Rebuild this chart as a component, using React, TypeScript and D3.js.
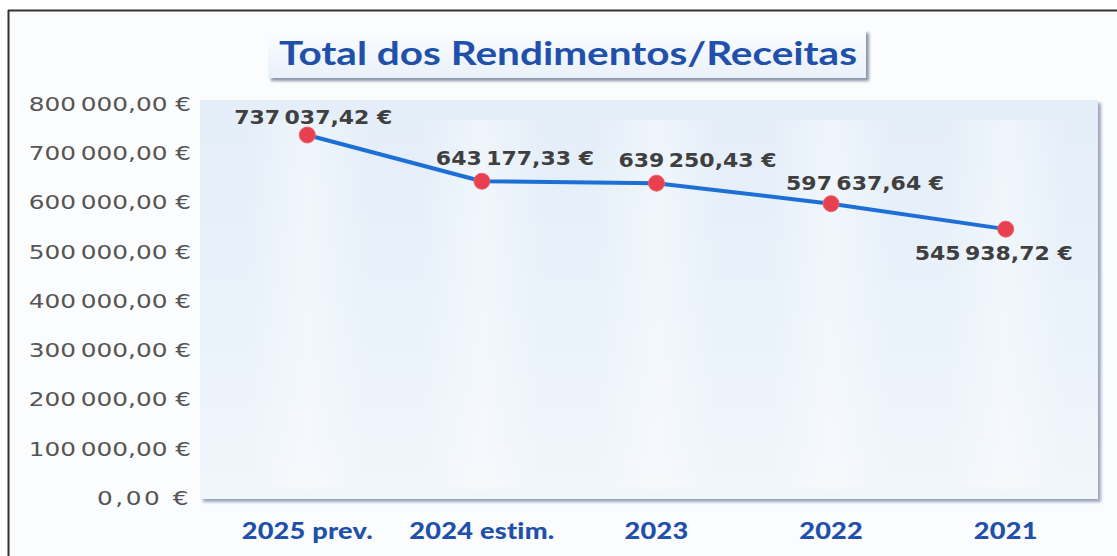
import React from "react";
import * as d3 from "d3";

// values
const categories = ["2025 prev.", "2024 estim.", "2023", "2022", "2021"];
const totals = [737037.42, 643177.33, 639250.43, 597637.64, 545938.72];
const yTicks = [0, 100000, 200000, 300000, 400000, 500000, 600000, 700000, 800000];
const title = "Total dos Rendimentos/Receitas";

// manual nudges of the data labels (as placed in the original)
const labelDx = [6, 33, 41, 34, -12];
const labelDy = [-11, -16, -16, -14, 31];

const W = 1117;
const H = 556;

const pt = d3.formatLocale({
  decimal: ",",
  thousands: "\u202f",
  grouping: [3],
  currency: ["", "\u00a0€"],
});
const euro = pt.format("$,.2f");

// the original scan is stretched sideways; text is widened to match
const stretch = (px: number, py: number, k: number) => `translate(${px},${py}) scale(${k},1)`;

export default function App() {
  const panel = { x0: 200, x1: 1098, y0: 100, y1: 499 };

  const y = d3.scaleLinear().domain([0, 800000]).range([498, 104]);
  const x = d3.scaleBand().domain(categories).range([220, 1093]).paddingInner(0);
  const cx = (c: string) => (x(c) ?? 0) + x.bandwidth() / 2;

  const line = d3
    .line<number>()
    .x((_, i) => cx(categories[i]))
    .y((d) => y(d));

  return (
    <svg
      width={W}
      height={H}
      style={{ position: "absolute", left: 0, top: 0, background: "#ffffff" }}
    >
      <defs>
        <linearGradient id="panelFill" x1="0" y1="0" x2="0" y2="1">
          <stop offset="0" stopColor="#e4eef8" />
          <stop offset="0.55" stopColor="#eaf2fa" />
          <stop offset="1" stopColor="#f1f6fb" />
        </linearGradient>
        <linearGradient id="stripe" x1="0" y1="0" x2="1" y2="0">
          <stop offset="0" stopColor="#ffffff" stopOpacity="0" />
          <stop offset="0.5" stopColor="#ffffff" stopOpacity="0.4" />
          <stop offset="1" stopColor="#ffffff" stopOpacity="0" />
        </linearGradient>
        <linearGradient id="titleFill" x1="0" y1="0" x2="0" y2="1">
          <stop offset="0" stopColor="#fbfdff" />
          <stop offset="1" stopColor="#e9f1fa" />
        </linearGradient>
        <filter id="soft" x="-5%" y="-5%" width="110%" height="115%">
          <feGaussianBlur stdDeviation="1.5" />
        </filter>
      </defs>

      {/* outer frame */}
      <rect x={0} y={0} width={W} height={H} fill="#fbfcfd" />
      <rect x={0} y={0} width={W} height={10} fill="#ffffff" />
      <rect x={0} y={0} width={8} height={H} fill="#ffffff" />
      <line x1={8.5} y1={10} x2={8.5} y2={H} stroke="#333" strokeWidth={2} />
      <line x1={8} y1={10.5} x2={W} y2={10.5} stroke="#333" strokeWidth={2} />

      {/* plot panel with soft shadow */}
      <rect
        x={panel.x0 + 3}
        y={panel.y0 + 3}
        width={panel.x1 - panel.x0}
        height={panel.y1 - panel.y0}
        fill="#9aa6c0"
        filter="url(#soft)"
      />
      <rect
        x={panel.x0}
        y={panel.y0}
        width={panel.x1 - panel.x0}
        height={panel.y1 - panel.y0}
        fill="url(#panelFill)"
      />
      {categories.map((c) => (
        <rect
          key={"s" + c}
          x={cx(c) - 60}
          y={panel.y0 + 20}
          width={120}
          height={panel.y1 - panel.y0 - 30}
          fill="url(#stripe)"
        />
      ))}

      {/* title box */}
      <rect x={271} y={33} width={598} height={48} fill="#8a94a8" filter="url(#soft)" />
      <rect x={268} y={30} width={598} height={48} fill="url(#titleFill)" />
      <text
        x={568}
        y={65}
        textAnchor="middle"
        fontFamily="Lato, 'Open Sans', sans-serif"
        fontWeight={700}
        fontSize={33}
        fill="#2150aa"
        textLength={578}
        lengthAdjust="spacingAndGlyphs"
      >
        {title}
      </text>

      {/* y axis labels */}
      {yTicks.map((t) => (
        <text
          key={"y" + t}
          transform={stretch(191, y(t), 1.27)}
          dy="0.35em"
          textAnchor="end"
          fontFamily="'DejaVu Sans', Verdana, sans-serif"
          fontSize={19.5}
          letterSpacing={2}
          fill="#555555"
        >
          {euro(t)}
        </text>
      ))}

      {/* x axis labels */}
      {categories.map((c) => (
        <text
          key={"x" + c}
          transform={stretch(cx(c), 539, 1.18)}
          textAnchor="middle"
          fontFamily="Lato, 'Open Sans', sans-serif"
          fontWeight={900}
          fontSize={23}
          letterSpacing={0.2}
          fill="#2150aa"
        >
          {c}
        </text>
      ))}

      {/* series */}
      <path d={line(totals) ?? ""} fill="none" stroke="#1d6fd6" strokeWidth={4} strokeLinejoin="round" />
      {totals.map((v, i) => (
        <circle key={"p" + i} cx={cx(categories[i])} cy={y(v)} r={8} fill="#e8404f" stroke="#f06070" strokeWidth={1} />
      ))}
      {totals.map((v, i) => (
        <text
          key={"l" + i}
          transform={stretch(cx(categories[i]) + labelDx[i], y(v) + labelDy[i], 1.1)}
          textAnchor="middle"
          fontFamily="'DejaVu Sans', Verdana, sans-serif"
          fontWeight={700}
          fontSize={20}
          letterSpacing={1.4}
          fill="#3f3f3f"
        >
          {euro(v)}
        </text>
      ))}
    </svg>
  );
}
